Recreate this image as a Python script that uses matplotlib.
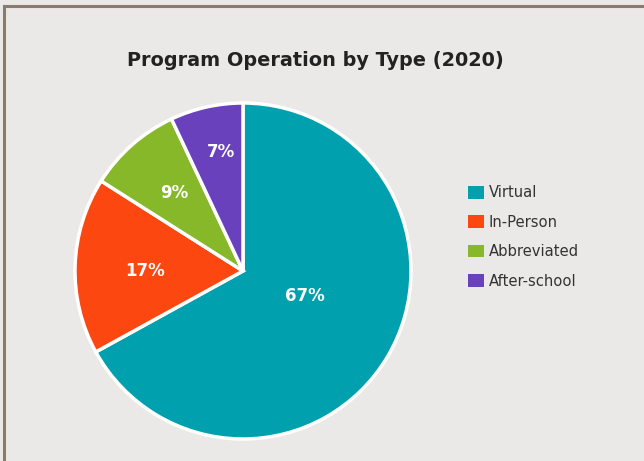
import matplotlib
matplotlib.use("Agg")
import matplotlib.pyplot as plt
import numpy as np
from matplotlib.lines import Line2D
from matplotlib.patches import Patch

categories = ["Virtual", "In-Person", "Abbreviated", "After-school"]
values = [67, 17, 9, 7]
colors = ["#00a0ae", "#fc4710", "#86b82a", "#6a41bd"]
title = "Program Operation by Type (2020)"

bg = "#ebe9e7"
W, H = 644, 461
plt.rcParams["font.family"] = ["DejaVu Sans"]
fig = plt.figure(figsize=(W / 100, H / 100), dpi=100, facecolor=bg)

ax = fig.add_axes([75 / W, 1 - 439 / H, 336 / W, 336 / H])
ax.set_facecolor(bg)
wedges, _ = ax.pie(values, colors=colors, startangle=90, counterclock=False,
                   wedgeprops=dict(edgecolor="white", linewidth=2.5))
ax.set_xlim(-1, 1)
ax.set_ylim(-1, 1)
ax.set_aspect("equal")
ax.axis("off")

dists = [0.40, 0.58, 0.62, 0.72]
shifts = [8.5, 1.8, 0.0, -2.0]
for w, v, d, s in zip(wedges, values, dists, shifts):
    ang = np.deg2rad((w.theta1 + w.theta2) / 2 + s)
    ax.text(d * np.cos(ang), d * np.sin(ang), f"{v}%", ha="center", va="center",
            color="white", fontsize=12, fontweight="bold")

fig.text(315 / W, 1 - 60 / H, title, ha="center", va="center",
         fontsize=13.9, fontweight="bold", color="#222222")

handles = [Patch(facecolor=c, edgecolor="none") for c in colors]
leg = fig.legend(handles, categories, loc="upper left",
                 bbox_to_anchor=(455 / W, 1 - 172 / H), frameon=False,
                 fontsize=10.6, labelcolor="#333333", handlelength=1.1,
                 handleheight=0.95, handletextpad=0.3, labelspacing=0.98)

# border
fig.add_artist(Line2D([4 / W, 4 / W], [0, 1 - 6 / H], color="#8b7b6b", lw=2.2,
                      transform=fig.transFigure))
fig.add_artist(Line2D([4 / W, 1], [1 - 6 / H, 1 - 6 / H], color="#8b7b6b", lw=2.2,
                      transform=fig.transFigure))

fig.savefig("out.png", dpi=100, facecolor=bg)
